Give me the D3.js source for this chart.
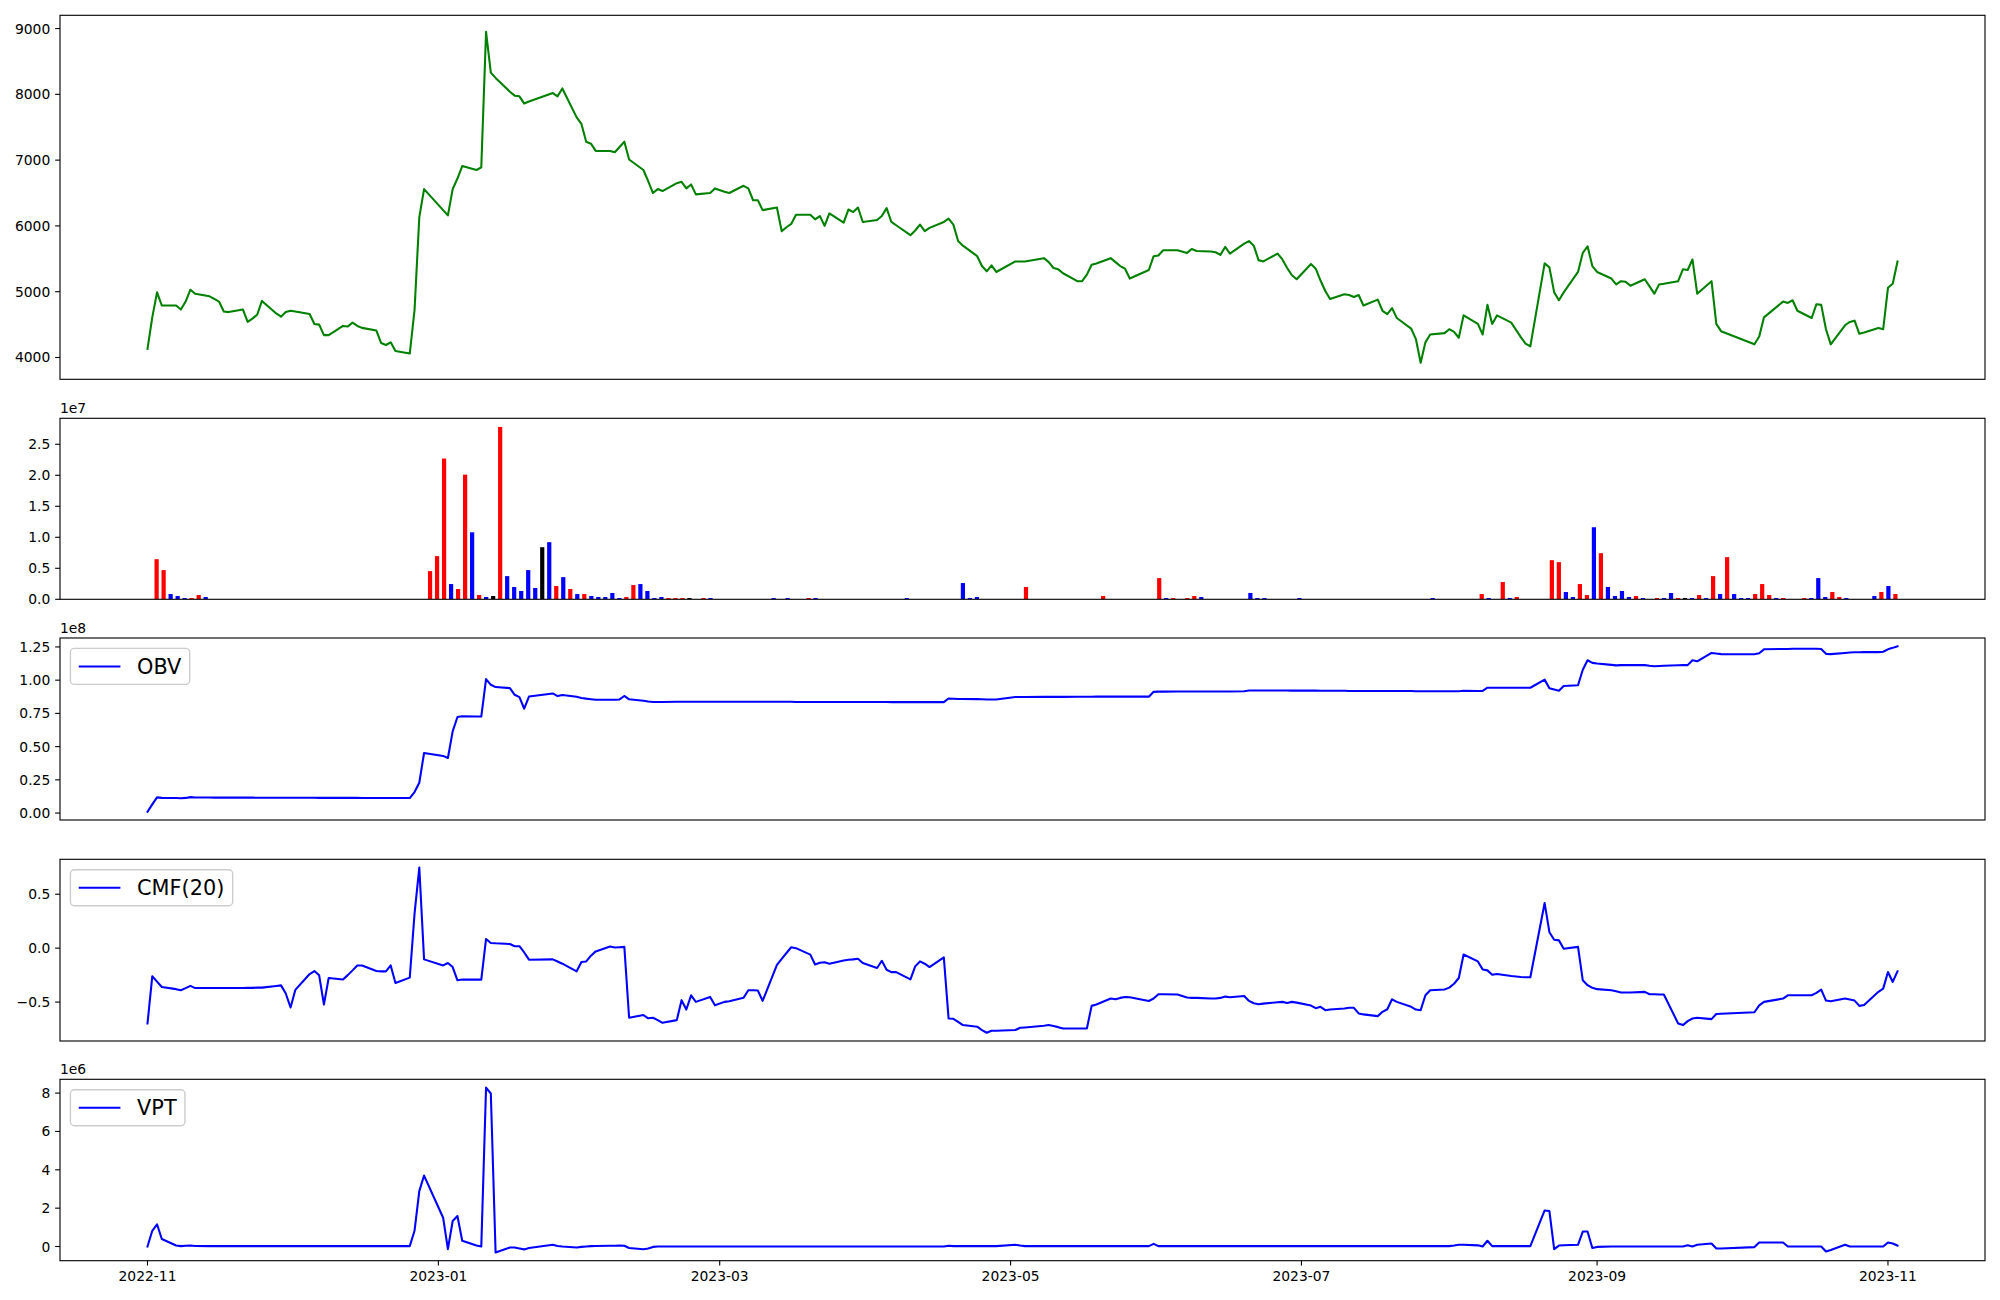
<!DOCTYPE html>
<html><head><meta charset="utf-8">
<script src="https://cdn.jsdelivr.net/npm/d3@7"></script>
<style>
body{margin:0;background:#fff;}
svg{display:block;font-family:"DejaVu Sans",sans-serif;}
</style></head><body>
<svg id="chart" width="2000" height="1300"></svg>
<script>
// ---------------- DATA ----------------
const tradingDays = {
  "2022-11": [1,2,3,4,7,8,9,10,11,14,15,16,17,18,21,22,23,24,25,28,29,30],
  "2022-12": [1,2,5,6,7,8,9,12,13,14,15,16,19,20,21,22,23,26,27,28,29],
  "2023-01": [2,3,4,5,6,9,10,11,12,13,16,17,18,19,20,25,26,27,30,31],
  "2023-02": [1,2,3,6,7,8,9,10,13,14,15,16,17,20,21,22,23,24,27,28],
  "2023-03": [2,3,6,7,8,9,10,13,14,15,16,17,20,21,22,23,24,27,28,29,30,31],
  "2023-04": [3,4,5,6,7,10,11,12,13,14,17,18,19,20,21,24,25,26,27,28],
  "2023-05": [2,3,4,8,9,10,11,12,15,16,17,18,19,22,23,24,25,26,30,31],
  "2023-06": [1,2,5,7,8,9,12,13,14,15,16,19,20,21,22,23,26,27,28,29,30],
  "2023-07": [3,4,5,6,7,10,11,12,13,14,17,18,19,20,21,24,25,26,27,28,31],
  "2023-08": [1,2,3,4,7,8,9,10,11,14,16,17,18,21,22,23,24,25,28,29,30,31],
  "2023-09": [1,4,5,6,7,8,11,12,13,14,15,18,19,20,21,22,25,26,27],
  "2023-10": [4,5,6,10,11,12,13,16,17,18,19,20,23,24,25,26,27,30,31],
  "2023-11": [1,2,3]
};

const closePrice = [
  4130,4610,4990,4790,4790,4730,4850,5030,4970,4930,4890,4850,4700,4690,4730,4540,4590,4650,4860,4670,4620,4690,
  4710,4700,4660,4510,4500,4340,4340,4480,4470,4530,4480,4450,4410,4220,4190,4230,4100,4060,4720,6130,6560,
  6240,6160,6560,6720,6910,6850,6890,8950,8330,8250,8040,7980,7970,7860,7890,8020,7970,8090,7650,7550,
  7280,7250,7140,7140,7120,7200,7280,7010,6850,6680,6500,6560,6530,6650,6670,6570,6630,6480,6500,6570,
  6520,6500,6610,6570,6390,6390,6240,6280,5920,5980,6030,6170,6170,6100,6150,6000,6190,6050,6250,6210,6280,6060,
  6090,6150,6270,6060,6010,5860,5930,6020,5920,5970,6060,6110,6020,5770,5700,5540,5390,5310,5400,5300,
  5460,5460,5460,5510,5450,5360,5340,5280,5160,5160,5260,5410,5430,5510,5450,5390,5350,5200,5330,5540,
  5550,5630,5630,5590,5650,5620,5610,5600,5560,5680,5580,5730,5770,5700,5480,5460,5580,5490,5360,5250,5190,
  5420,5350,5170,5010,4890,4960,4950,4920,4950,4790,4880,4710,4660,4750,4600,4440,4280,3920,4230,4350,4370,
  4430,4390,4300,4640,4510,4350,4800,4510,4640,4530,4310,4210,4170,5430,5370,4990,4870,4990,5300,5590,5690,5390,
  5300,5200,5110,5160,5150,5090,5190,5080,4970,5110,5120,5160,5340,5330,5490,4970,5160,4510,4400,
  4200,4320,4610,4850,4830,4870,4710,4600,4810,4800,4430,4200,4490,4540,4560,4360,4380,4450,4430,
  5060,5120,5460
];

// volume in millions of shares
const volumeM = [
  0.02,6.47,4.71,0.85,0.53,0.21,0.21,0.69,0.37,0.02,0.02,0.02,0.02,0.02,0.02,0.02,0.02,0.02,0.02,0.02,0.02,0.02,
  0.02,0.02,0.02,0.02,0.02,0.02,0.02,0.02,0.02,0.02,0.02,0.02,0.02,0.02,0.02,0.02,0.02,0.02,4.55,6.96,22.7,
  2.46,1.66,20.1,10.8,0.69,0.37,0.53,27.8,3.74,1.98,1.34,4.71,1.82,8.40,9.21,2.14,3.58,1.66,0.85,0.85,
  0.53,0.37,0.37,1.02,0.21,0.37,2.30,2.46,1.34,0.21,0.37,0.21,0.21,0.21,0.21,0.02,0.21,0.21,0.02,0.02,
  0.02,0.02,0.02,0.02,0.02,0.02,0.21,0.02,0.21,0.02,0.02,0.21,0.21,0.02,0.02,0.02,0.02,0.02,0.02,0.02,0.02,0.02,
  0.02,0.02,0.02,0.21,0.02,0.02,0.02,0.02,0.02,0.02,0.02,2.62,0.21,0.37,0.02,0.02,0.02,0.02,0.02,0.02,
  1.98,0.02,0.02,0.02,0.02,0.02,0.02,0.02,0.02,0.02,0.02,0.53,0.02,0.02,0.02,0.02,0.02,0.02,0.02,3.42,
  0.21,0.21,0.02,0.21,0.53,0.37,0.02,0.02,0.02,0.02,0.02,0.02,1.02,0.21,0.21,0.02,0.02,0.02,0.02,0.21,0.02,
  0.02,0.02,0.02,0.02,0.02,0.02,0.02,0.02,0.02,0.02,0.02,0.02,0.02,0.02,0.02,0.02,0.02,0.21,0.02,0.02,0.02,
  0.02,0.02,0.02,0.85,0.21,0.02,2.78,0.21,0.37,0.02,0.02,0.02,0.02,6.31,5.99,1.18,0.37,2.46,0.69,11.62,7.44,1.98,
  0.53,1.34,0.37,0.53,0.21,0.02,0.21,0.21,1.02,0.21,0.21,0.21,0.69,0.21,3.74,0.85,6.80,0.85,0.21,
  0.21,0.85,2.46,0.69,0.21,0.21,0.02,0.02,0.21,0.21,3.42,0.37,1.18,0.37,0.21,0.02,0.02,0.02,0.53,
  1.18,2.14,0.85
];

// bar colour code per day: r = red, b = blue, k = black
const volumeColorCodes = [
  "brrbbbrrbbbbbbbbbbbbbb",
  "bbbbbbbbbbbbbbbbbbrrr",
  "brrbrbkrbbbbbkbrbrbr",
  "bbbbbrrbbbbrrrkbrbbb",
  "bbbbbbbbbbbrbbbbbbbbbb",
  "bbbbbbbbbbbbbbbbbbbb",
  "rbbbbbbbbbbrbbbbbbbr",
  "brbrrbbbbbbbbbbbbbbbb",
  "bbbbbbbbbbbbbbbbbbbbb",
  "bbbrbbrbrbbbbrrbbrrbrb",
  "bbbrbbrbbrkbrbrbrbb",
  "brrrbrbbrbbbrrbbbbb",
  "rbr"
];

// On-balance volume, units of 1e8
const obv = [
  0.010,0.065,0.118,0.114,0.113,0.112,0.114,0.120,0.117,0.117,0.116,0.116,0.116,0.116,0.116,0.116,0.116,0.115,0.115,0.115,0.115,0.115,
  0.115,0.115,0.115,0.115,0.114,0.114,0.114,0.114,0.114,0.114,0.114,0.113,0.113,0.113,0.113,0.113,0.113,0.113,0.158,0.228,0.452,
  0.430,0.414,0.615,0.723,0.728,0.726,0.726,1.008,0.965,0.948,0.940,0.890,0.872,0.785,0.877,0.900,0.880,0.888,0.875,0.866,
  0.861,0.857,0.853,0.853,0.853,0.855,0.881,0.856,0.845,0.840,0.836,0.836,0.836,0.837,0.837,0.837,0.838,0.838,0.838,0.838,
  0.838,0.838,0.838,0.838,0.838,0.838,0.837,0.837,0.837,0.837,0.837,0.836,0.836,0.836,0.836,0.836,0.836,0.836,0.836,0.836,0.836,0.836,
  0.836,0.836,0.836,0.835,0.835,0.835,0.835,0.835,0.835,0.835,0.835,0.862,0.860,0.858,0.858,0.857,0.856,0.855,0.855,0.855,
  0.873,0.873,0.873,0.874,0.874,0.874,0.874,0.874,0.875,0.875,0.875,0.875,0.876,0.876,0.876,0.876,0.876,0.876,0.876,0.912,
  0.914,0.914,0.915,0.915,0.915,0.915,0.915,0.915,0.915,0.915,0.915,0.916,0.922,0.922,0.922,0.922,0.922,0.922,0.922,0.921,0.921,
  0.921,0.921,0.920,0.920,0.920,0.920,0.919,0.919,0.919,0.919,0.919,0.918,0.918,0.918,0.918,0.918,0.917,0.917,0.917,0.917,0.917,
  0.917,0.917,0.917,0.920,0.919,0.919,0.943,0.943,0.943,0.943,0.943,0.943,0.943,1.004,0.940,0.930,0.920,0.956,0.962,1.078,1.150,1.130,
  1.125,1.115,1.111,1.113,1.113,1.113,1.113,1.108,1.105,1.107,1.108,1.112,1.113,1.113,1.150,1.142,1.205,1.200,1.196,
  1.195,1.202,1.232,1.235,1.235,1.236,1.236,1.236,1.236,1.235,1.198,1.196,1.205,1.208,1.210,1.210,1.211,1.211,1.214,
  1.232,1.243,1.255
];

// Chaikin money flow (20)
const cmf20 = [
  -0.698,-0.261,-0.310,-0.360,-0.380,-0.390,-0.370,-0.350,-0.370,-0.370,-0.370,-0.370,-0.370,-0.370,-0.370,-0.368,-0.368,-0.365,-0.366,-0.350,-0.345,-0.420,
  -0.550,-0.387,-0.240,-0.212,-0.252,-0.522,-0.276,-0.290,-0.250,-0.206,-0.160,-0.160,-0.212,-0.215,-0.215,-0.160,-0.323,-0.273,0.317,0.747,-0.104,
  -0.160,-0.138,-0.175,-0.298,-0.290,-0.292,-0.292,0.085,0.048,0.045,0.039,0.018,0.018,-0.040,-0.107,-0.104,-0.124,-0.144,-0.215,-0.129,
  -0.123,-0.070,-0.030,0.015,0.006,0.009,0.012,-0.645,-0.620,-0.650,-0.645,-0.667,-0.692,-0.667,-0.482,-0.569,-0.437,-0.498,-0.452,-0.530,
  -0.498,-0.492,-0.460,-0.390,-0.390,-0.393,-0.489,-0.155,-0.100,-0.045,0.008,0.000,-0.060,-0.152,-0.135,-0.130,-0.144,-0.114,-0.107,-0.104,-0.098,-0.138,
  -0.184,-0.117,-0.200,-0.222,-0.222,-0.289,-0.169,-0.123,-0.144,-0.175,-0.086,-0.652,-0.655,-0.683,-0.713,-0.728,-0.759,-0.784,-0.765,-0.765,
  -0.759,-0.738,-0.735,-0.720,-0.713,-0.722,-0.732,-0.744,-0.744,-0.744,-0.744,-0.535,-0.523,-0.467,-0.474,-0.461,-0.452,-0.455,-0.490,-0.467,
  -0.427,-0.427,-0.430,-0.458,-0.461,-0.461,-0.467,-0.467,-0.461,-0.449,-0.455,-0.443,-0.489,-0.511,-0.520,-0.514,-0.501,-0.498,-0.508,-0.498,-0.505,
  -0.532,-0.556,-0.544,-0.575,-0.569,-0.560,-0.553,-0.553,-0.605,-0.614,-0.630,-0.590,-0.566,-0.474,-0.498,-0.544,-0.569,-0.575,-0.437,-0.390,-0.384,
  -0.366,-0.330,-0.277,-0.059,-0.123,-0.197,-0.206,-0.246,-0.240,-0.258,-0.267,-0.270,-0.270,0.418,0.148,0.078,0.072,-0.005,0.012,-0.298,-0.343,-0.368,
  -0.380,-0.390,-0.399,-0.411,-0.411,-0.411,-0.405,-0.427,-0.427,-0.430,-0.430,-0.698,-0.713,-0.676,-0.652,-0.645,-0.658,-0.610,-0.608,
  -0.594,-0.530,-0.498,-0.467,-0.437,-0.437,-0.437,-0.437,-0.415,-0.384,-0.486,-0.492,-0.467,-0.476,-0.486,-0.535,-0.526,-0.405,-0.375,
  -0.221,-0.313,-0.215
];

// Volume price trend, units of 1e6
const vpt = [
  0.00,0.82,1.16,0.39,0.05,0.02,0.04,0.05,0.03,0.02,0.02,0.02,0.02,0.02,0.02,0.02,0.02,0.02,0.02,0.02,0.02,0.02,
  0.02,0.02,0.02,0.02,0.02,0.02,0.02,0.02,0.02,0.02,0.02,0.02,0.02,0.02,0.02,0.02,0.02,0.02,0.82,2.89,3.70,
  1.50,-0.14,1.33,1.59,0.30,0.05,0.00,8.29,7.98,-0.31,-0.05,-0.05,-0.10,-0.15,-0.08,0.09,0.03,0.00,-0.05,-0.02,
  0.00,0.02,0.03,0.04,0.04,0.05,0.04,-0.08,-0.14,-0.10,-0.02,0.00,0.00,0.00,0.00,0.00,0.00,0.00,0.00,0.00,
  0.00,0.00,0.00,0.00,0.00,0.00,0.00,0.00,0.00,0.00,0.00,0.00,0.00,0.00,0.00,0.00,0.00,0.00,0.00,0.00,0.00,0.00,
  0.00,0.00,0.00,0.00,0.00,0.00,0.00,0.00,0.00,0.00,0.00,0.04,0.02,0.02,0.02,0.02,0.02,0.02,0.02,0.02,
  0.09,0.05,0.02,0.02,0.02,0.02,0.02,0.02,0.02,0.02,0.02,0.02,0.02,0.02,0.02,0.02,0.02,0.02,0.02,0.14,
  0.02,0.02,0.02,0.02,0.02,0.02,0.02,0.02,0.02,0.02,0.02,0.02,0.02,0.02,0.02,0.02,0.02,0.02,0.02,0.02,0.02,
  0.02,0.02,0.02,0.02,0.02,0.02,0.02,0.02,0.02,0.02,0.02,0.02,0.02,0.02,0.02,0.02,0.02,0.02,0.02,0.02,0.02,
  0.02,0.05,0.09,0.09,0.06,0.00,0.30,0.02,0.02,0.02,0.02,0.02,0.02,1.88,1.85,-0.14,0.05,0.07,0.09,0.78,0.78,-0.08,
  -0.02,0.00,0.00,0.00,0.00,0.00,0.00,0.00,0.00,0.00,0.00,0.00,0.00,0.07,0.00,0.09,0.16,-0.10,-0.10,
  -0.03,0.21,0.21,0.21,0.00,0.00,0.00,0.00,0.00,0.00,-0.26,-0.18,0.09,0.00,0.00,0.00,0.00,0.00,0.00,
  0.21,0.16,0.05
];

const priceTicks = [4000,5000,6000,7000,8000,9000];
const volumeTicksM = [0,5,10,15,20,25];     // labels shown in units of 1e7
const obvTicks = [0,0.25,0.5,0.75,1.0,1.25]; // units of 1e8
const cmfTicks = [-0.5,0,0.5];
const vptTicks = [0,2,4,6,8];               // units of 1e6
const offsetLabels = {volume:"1e7", obv:"1e8", vpt:"1e6"};
const legendLabels = {obv:"OBV", cmf:"CMF(20)", vpt:"VPT"};

// ---------------- BUILD ----------------
const dates = [];
Object.entries(tradingDays).forEach(([ym, days]) => {
  const [y, m] = ym.split("-").map(Number);
  days.forEach(d => dates.push(new Date(Date.UTC(y, m - 1, d))));
});
const colorCodes = volumeColorCodes.join("");
const colorMap = {r:"#ff0000", b:"#0000ff", k:"#000000"};
const N = dates.length;
console.log("N", N, closePrice.length, volumeM.length, colorCodes.length, obv.length, cmf20.length, vpt.length);

const PT = 100/72;
const tickLen = 3.5*PT, tickPad = 3.5*PT, fs = 10*PT, legFs = 15*PT, lw = 1.5*PT, spineW = 0.8*PT;
const L = 60, R = 1985;
const panels = [
  {top:15.3,  bottom:379.3},
  {top:418.3, bottom:599.3},
  {top:638.0, bottom:820.0},
  {top:859.3, bottom:1041.0},
  {top:1079.3,bottom:1260.7}
];

const svg = d3.select("#chart");
svg.append("rect").attr("width",2000).attr("height",1300).attr("fill","#fff");
const defs = svg.append("defs");
panels.forEach((p,i) => {
  defs.append("clipPath").attr("id","clip"+i).append("rect")
    .attr("x",L).attr("y",p.top).attr("width",R-L).attr("height",p.bottom-p.top);
});

function padded(arr){
  const mn = d3.min(arr), mx = d3.max(arr), r = mx - mn;
  return [mn - 0.05*r, mx + 0.05*r];
}

const t0 = +dates[0], t1 = +dates[N-1], span = t1 - t0;
const xT = d3.scaleUtc().domain([new Date(t0 - 0.05*span), new Date(t1 + 0.05*span)]).range([L, R]);
const bw = 0.6;
const ispan = (N - 1) + bw;
const xI = d3.scaleLinear().domain([-bw/2 - 0.05*ispan, N - 1 + bw/2 + 0.05*ispan]).range([L, R]);

function yAxis(p, y, ticks, fmt){
  const g = svg.append("g");
  ticks.forEach(v => {
    const yy = y(v);
    g.append("line").attr("x1",L - tickLen).attr("x2",L).attr("y1",yy).attr("y2",yy)
      .attr("stroke","#000").attr("stroke-width",spineW);
    g.append("text").attr("x",L - tickLen - tickPad).attr("y",yy).attr("dy","0.36em")
      .attr("text-anchor","end").attr("font-size",fs).attr("fill","#000").text(fmt(v));
  });
}
function frame(p){
  svg.append("rect").attr("x",L).attr("y",p.top).attr("width",R-L).attr("height",p.bottom-p.top)
    .attr("fill","none").attr("stroke","#000").attr("stroke-width",spineW);
}
function offsetText(p, txt){
  svg.append("text").attr("x",L).attr("y",p.top - 5.3).attr("font-size",fs).attr("fill","#000").text(txt);
}
function linePlot(i, y, vals, color){
  const line = d3.line().x((d,k) => xT(dates[k])).y(d => y(d));
  svg.append("path").attr("clip-path","url(#clip"+i+")").attr("d", line(vals))
    .attr("fill","none").attr("stroke",color).attr("stroke-width",lw)
    .attr("stroke-linejoin","round").attr("stroke-linecap","square");
}
function legend(p, label){
  const g = svg.append("g");
  const x0 = L + 0.5*legFs, y0 = p.top + 0.5*legFs;
  const bh = 36;
  const rect = g.append("rect");
  const cy = y0 + bh/2;
  const hx0 = x0 + 0.4*legFs, hx1 = hx0 + 2*legFs;
  g.append("line").attr("x1",hx0).attr("x2",hx1).attr("y1",cy).attr("y2",cy)
    .attr("stroke","#0000ff").attr("stroke-width",lw);
  const t = g.append("text").attr("x",hx1 + 0.8*legFs).attr("y",cy).attr("dy","0.36em")
    .attr("font-size",legFs).attr("fill","#000").text(label);
  const tw = t.node().getComputedTextLength();
  const bwid = (hx1 + 0.8*legFs + tw + 0.4*legFs) - x0;
  rect.attr("x",x0).attr("y",y0).attr("width",bwid).attr("height",bh).attr("rx",4).attr("ry",4)
    .attr("fill","#fff").attr("fill-opacity",0.8).attr("stroke","#cccccc").attr("stroke-width",1.0*PT);
}

// Panel 1: price
{
  const p = panels[0];
  const y = d3.scaleLinear().domain(padded(closePrice)).range([p.bottom, p.top]);
  linePlot(0, y, closePrice, "#008000");
  frame(p);
  yAxis(p, y, priceTicks, v => String(v));
}
// Panel 2: volume bars
{
  const p = panels[1];
  const y = d3.scaleLinear().domain([0, d3.max(volumeM)*1.05]).range([p.bottom, p.top]);
  const g = svg.append("g").attr("clip-path","url(#clip1)");
  g.selectAll("rect").data(volumeM).join("rect")
    .attr("x",(d,i) => xI(i - bw/2)).attr("width", xI(bw) - xI(0))
    .attr("y", d => y(d)).attr("height", d => y(0) - y(d))
    .attr("fill", (d,i) => colorMap[colorCodes[i]]);
  frame(p);
  yAxis(p, y, volumeTicksM, v => (v/10).toFixed(1));
  offsetText(p, offsetLabels.volume);
}
// Panel 3: OBV
{
  const p = panels[2];
  const y = d3.scaleLinear().domain(padded(obv)).range([p.bottom, p.top]);
  linePlot(2, y, obv, "#0000ff");
  frame(p);
  yAxis(p, y, obvTicks, v => v.toFixed(2));
  offsetText(p, offsetLabels.obv);
  legend(p, legendLabels.obv);
}
// Panel 4: CMF
{
  const p = panels[3];
  const y = d3.scaleLinear().domain(padded(cmf20)).range([p.bottom, p.top]);
  linePlot(3, y, cmf20, "#0000ff");
  frame(p);
  yAxis(p, y, cmfTicks, v => (v < 0 ? "\u2212" : "") + Math.abs(v).toFixed(1));
  legend(p, legendLabels.cmf);
}
// Panel 5: VPT
{
  const p = panels[4];
  const y = d3.scaleLinear().domain(padded(vpt)).range([p.bottom, p.top]);
  linePlot(4, y, vpt, "#0000ff");
  frame(p);
  yAxis(p, y, vptTicks, v => String(v));
  offsetText(p, offsetLabels.vpt);
  legend(p, legendLabels.vpt);
  const ticks = xT.ticks(d3.utcMonth.every(2));
  const fmt = d3.utcFormat("%Y-%m");
  ticks.forEach(t => {
    const xx = xT(t);
    svg.append("line").attr("x1",xx).attr("x2",xx).attr("y1",p.bottom).attr("y2",p.bottom + tickLen)
      .attr("stroke","#000").attr("stroke-width",spineW);
    svg.append("text").attr("x",xx).attr("y",p.bottom + tickLen + tickPad).attr("dy","0.76em")
      .attr("text-anchor","middle").attr("font-size",fs).attr("fill","#000").text(fmt(t));
  });
}
</script>
</body></html>
